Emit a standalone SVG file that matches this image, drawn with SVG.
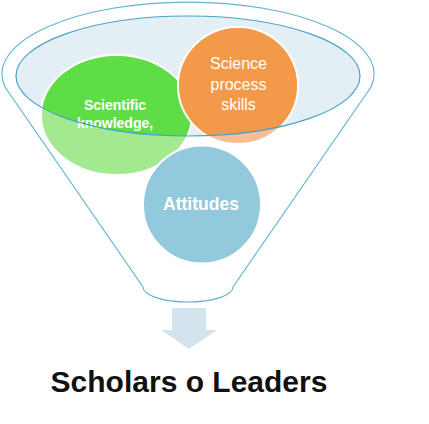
<svg xmlns="http://www.w3.org/2000/svg" width="429" height="424" viewBox="0 0 429 424">
  <style>
    .lbl { font-family: "Liberation Sans", Arial, sans-serif; fill: #ffffff; text-anchor: middle; }
    .b { font-weight: bold; }
    .node { stroke: #ffffff; stroke-width: 2; }
    .rim { fill: none; stroke: #4aa2c6; stroke-width: 1.2; }
  </style>
  <defs>
    <clipPath id="innerClip">
      <ellipse cx="188" cy="76" rx="172" ry="60"/>
    </clipPath>
  </defs>
  <rect width="429" height="424" fill="#ffffff"/>
  <g id="funnel">
    <path d="M 5 87 A 186 72 0 1 1 371 87 L 233 287 A 45 15 0 0 1 143 287 Z" fill="#ffffff" stroke="#62b2d2" stroke-width="1.1"/>
    <ellipse cx="188" cy="76" rx="172" ry="60" fill="#e3eff5"/>
  </g>
  <g id="scientific-knowledge">
    <ellipse class="node" cx="116.5" cy="115" rx="75.5" ry="60" fill="#a3e98f"/>
    <ellipse cx="116.5" cy="115" rx="74.5" ry="59" fill="#5edd47" clip-path="url(#innerClip)"/>
    <text class="lbl b" x="115" y="110" font-size="14">Scientific</text>
    <text class="lbl b" x="115" y="128" font-size="14">knowledge,</text>
  </g>
  <g id="science-process-skills">
    <ellipse class="node" cx="238" cy="85.5" rx="60" ry="58.5" fill="#f7bd93"/>
    <ellipse cx="238" cy="85.5" rx="59" ry="57.5" fill="#f39a4a" clip-path="url(#innerClip)"/>
    <text class="lbl" x="238.5" y="69" font-size="16">Science</text>
    <text class="lbl" x="238.5" y="89.5" font-size="16">process</text>
    <text class="lbl" x="238.5" y="110" font-size="16">skills</text>
  </g>
  <g id="attitudes">
    <circle class="node" cx="202" cy="204.5" r="59" fill="#92c9dc"/>
    <text class="lbl b" x="201" y="210" font-size="17.5">Attitudes</text>
  </g>
  <g id="funnel-rim">
    <ellipse class="rim" cx="188" cy="76" rx="172" ry="60"/>
  </g>
  <g id="connectors">
    <path d="M 172 308 L 206 308 L 206 330 L 217 330 L 189 349 L 161 330 L 172 330 Z" fill="#d3e4ee"/>
  </g>
  <g id="scholars-leaders">
    <text x="189" y="392" font-family="Liberation Sans, Arial, sans-serif" font-weight="bold" font-size="30" fill="#111111" text-anchor="middle">Scholars o Leaders</text>
  </g>
</svg>
